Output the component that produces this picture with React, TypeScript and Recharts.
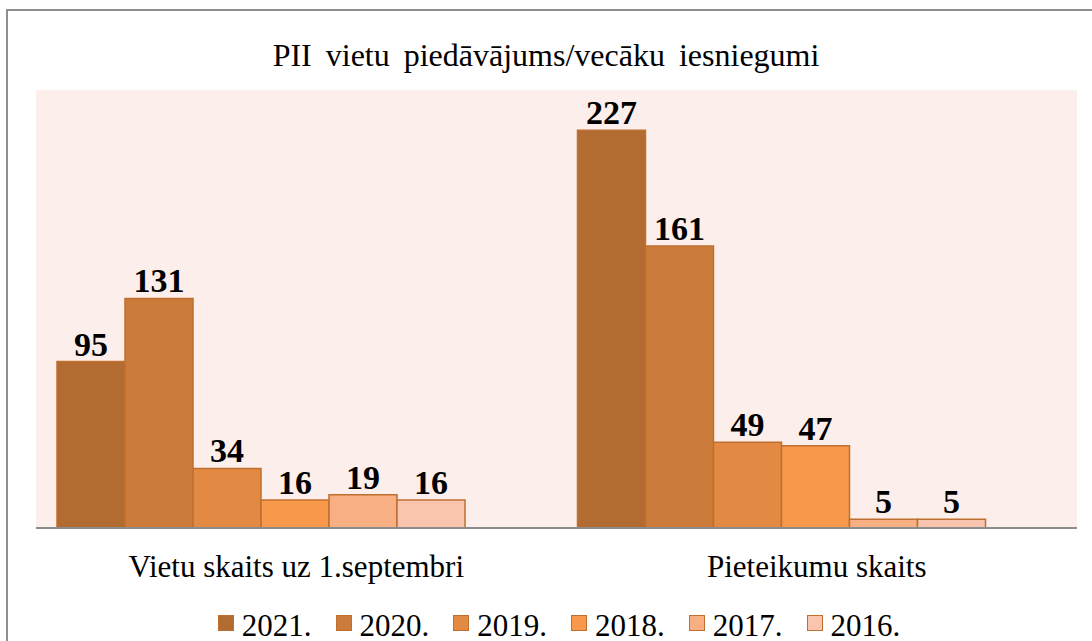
import { Bar, BarChart, CartesianGrid, LabelList, Legend, XAxis, YAxis } from 'recharts';

const FONT = '"Liberation Serif", "Times New Roman", serif';

const categories = ['Vietu skaits uz 1.septembri', 'Pieteikumu skaits'];
const years = ['2021.', '2020.', '2019.', '2018.', '2017.', '2016.'];
const vietuSkaits = [95, 131, 34, 16, 19, 16];
const pieteikumuSkaits = [227, 161, 49, 47, 5, 5];
const colors = ['#B26B30', '#CB7B3A', '#E28A43', '#F7984A', '#F8AF84', '#F9C5AE'];

const valuesByCategory = [vietuSkaits, pieteikumuSkaits];
const keys = years.map((y) => 'y' + y.replace('.', ''));

// one row per category, one field per year
const data = categories.map((name, i) => {
  const row: Record<string, string | number> = { name };
  keys.forEach((k, j) => {
    row[k] = valuesByCategory[i][j];
  });
  return row;
});

// Recharts 3 hands the payload over in reverse; keep the series order instead
function LegendRow() {
  return (
    <div style={{ display: 'flex', justifyContent: 'center', fontFamily: FONT }}>
      {years.map((y, j) => (
        <div
          key={y}
          style={{ display: 'flex', alignItems: 'flex-start', marginLeft: j === 0 ? 0 : 24 }}
        >
          <span
            style={{
              display: 'inline-block',
              boxSizing: 'border-box',
              width: 16,
              height: 16,
              marginTop: 3,
              marginRight: 8,
              background: colors[j],
              border: '1.5px solid #BF6F2F',
            }}
          />
          <span style={{ fontSize: 31, lineHeight: '28px', color: '#000' }}>{y}</span>
        </div>
      ))}
    </div>
  );
}

export default function App() {
  return (
    <div
      style={{
        position: 'fixed',
        left: 0,
        top: 0,
        width: 1092,
        height: 641,
        overflow: 'hidden',
        background: '#fff',
        fontFamily: FONT,
      }}
    >
      <div
        style={{
          position: 'absolute',
          left: 6,
          top: 9,
          width: 1300,
          height: 900,
          border: '2px solid #8E8E8E',
        }}
      />
      <div
        style={{
          position: 'absolute',
          left: 0,
          top: 39,
          width: 1092,
          textAlign: 'center',
          fontSize: 32,
          lineHeight: '32px',
          color: '#000',
          wordSpacing: 6,
        }}
      >
        PII vietu piedāvājums/vecāku iesniegumi
      </div>
      <div style={{ position: 'absolute', left: 0, top: 0 }}>
        <BarChart
          width={1092}
          height={641}
          data={data}
          margin={{ top: 90, right: 15, left: 36, bottom: 53 }}
          barCategoryGap={21}
          barGap={0}
        >
          <CartesianGrid fill="#FCEEEA" stroke="none" horizontal={false} vertical={false} />
          <XAxis
            dataKey="name"
            height={60}
            interval={0}
            tickLine={false}
            tickSize={6}
            tickMargin={21}
            axisLine={{ stroke: '#8C8C8C', strokeWidth: 2 }}
            tick={{ fill: '#000', fontSize: 31, fontFamily: FONT }}
          />
          <YAxis hide domain={[0, 250]} />
          <Legend
            verticalAlign="middle"
            align="center"
            layout="horizontal"
            content={<LegendRow />}
            wrapperStyle={{ top: 612, left: 26, width: 1066 }}
          />
          {keys.map((k, j) => (
            <Bar
              key={k}
              dataKey={k}
              name={years[j]}
              fill={colors[j]}
              stroke="#BF6F2F"
              strokeWidth={1.5}
              isAnimationActive={false}
            >
              <LabelList
                dataKey={k}
                position="top"
                offset={6}
                fill="#000"
                fontSize={34}
                fontWeight="bold"
                fontFamily={FONT}
              />
            </Bar>
          ))}
          {/* empty seventh slot, the source chart leaves room for it */}
          <Bar dataKey="spare" legendType="none" fill="none" isAnimationActive={false} />
        </BarChart>
      </div>
    </div>
  );
}
